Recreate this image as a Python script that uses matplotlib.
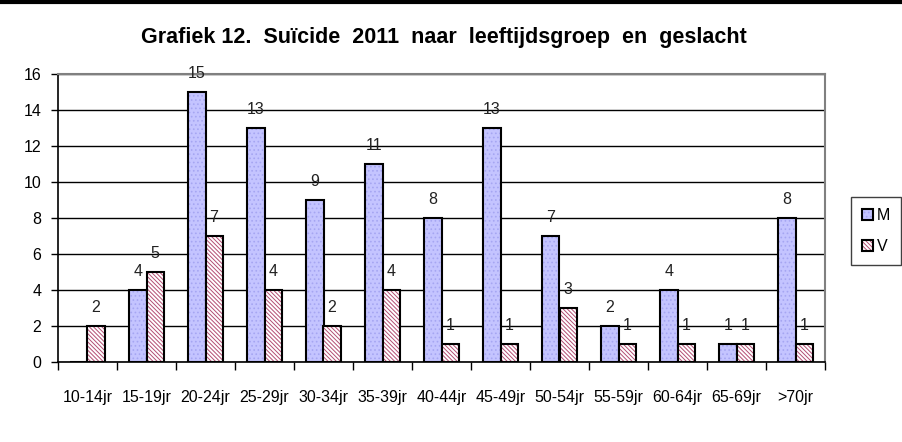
import numpy as np
import matplotlib.pyplot as plt
from matplotlib.lines import Line2D

plt.rcParams['font.family'] = ['Liberation Sans', 'DejaVu Sans']
plt.rcParams['hatch.linewidth'] = 0.7

categories = ['10-14jr', '15-19jr', '20-24jr', '25-29jr', '30-34jr', '35-39jr', '40-44jr',
              '45-49jr', '50-54jr', '55-59jr', '60-64jr', '65-69jr', '>70jr']
mannen = [0, 4, 15, 13, 9, 11, 8, 13, 7, 2, 4, 1, 8]
vrouwen = [2, 5, 7, 4, 2, 4, 1, 1, 3, 1, 1, 1, 1]

fig = plt.figure(figsize=(9.03, 4.42), dpi=100)
ax = fig.add_axes([58 / 903, 1 - 362 / 442, 767 / 903, 288 / 442])

x = np.arange(len(categories))
w = 0.29
bm = ax.bar(x - w / 2, mannen, w, color='#c4c4ff', edgecolor='black', linewidth=1.5,
            hatch='....', zorder=3, label='M')
for b in bm:
    b._hatch_color = (0.65, 0.65, 0.95, 1)
bv = ax.bar(x + w / 2, vrouwen, w, color='white', edgecolor='black', linewidth=1.5,
            hatch='\\' * 8, zorder=3, label='V')
for b in bv:
    b._hatch_color = (0.7, 0.3, 0.45, 1)

# value labels (Excel puts them a bit above the bar)
for xi, v in zip(x - w / 2, mannen):
    if v > 0:
        ax.text(xi, v + 0.6, str(v), ha='center', va='bottom', fontsize=11.5, color='#222222', zorder=4)
for xi, v in zip(x + w / 2, vrouwen):
    if v > 0:
        ax.text(xi, v + 0.6, str(v), ha='center', va='bottom', fontsize=11.5, color='#222222', zorder=4)

ax.set_xlim(-0.5, len(categories) - 0.5)
ax.set_ylim(0, 16)
ax.set_yticks(range(0, 17, 2))
ax.yaxis.grid(True, color='black', linewidth=1)
ax.set_axisbelow(True)
ax.set_xticks(np.arange(-0.5, len(categories), 1))
ax.set_xticklabels([])
ax.set_xticks(x, minor=True)
ax.set_xticklabels(categories, minor=True)
ax.tick_params(axis='x', which='minor', length=0, pad=20, labelsize=11.5)
ax.tick_params(axis='x', which='major', length=6, width=1, direction='out')
ax.tick_params(axis='y', length=5, width=1, labelsize=11.5, pad=7)

for s in ['top', 'right']:
    ax.spines[s].set_color('#808080')
    ax.spines[s].set_linewidth(1.5)
ax.spines['left'].set_linewidth(1.2)
ax.spines['bottom'].set_linewidth(1.2)

fig.text(0.492, 1 - 38 / 442, 'Grafiek 12.  Suïcide  2011  naar  leeftijdsgroep  en  geslacht',
         ha='center', va='center', fontsize=15.5, fontweight='bold')

fig.legend(handles=[bm, bv], labels=['M', 'V'], loc='upper left',
           bbox_to_anchor=(843 / 903, 1 - 189 / 442), fancybox=False, edgecolor='#404040',
           framealpha=1, fontsize=11.5, handlelength=0.7, handleheight=0.7,
           handletextpad=0.2, labelspacing=1.0, borderpad=0.7)

fig.add_artist(Line2D([0, 1], [1 - 1.5 / 442, 1 - 1.5 / 442], color='black', linewidth=3,
                      transform=fig.transFigure))

plt.savefig('out.png', dpi=100)
